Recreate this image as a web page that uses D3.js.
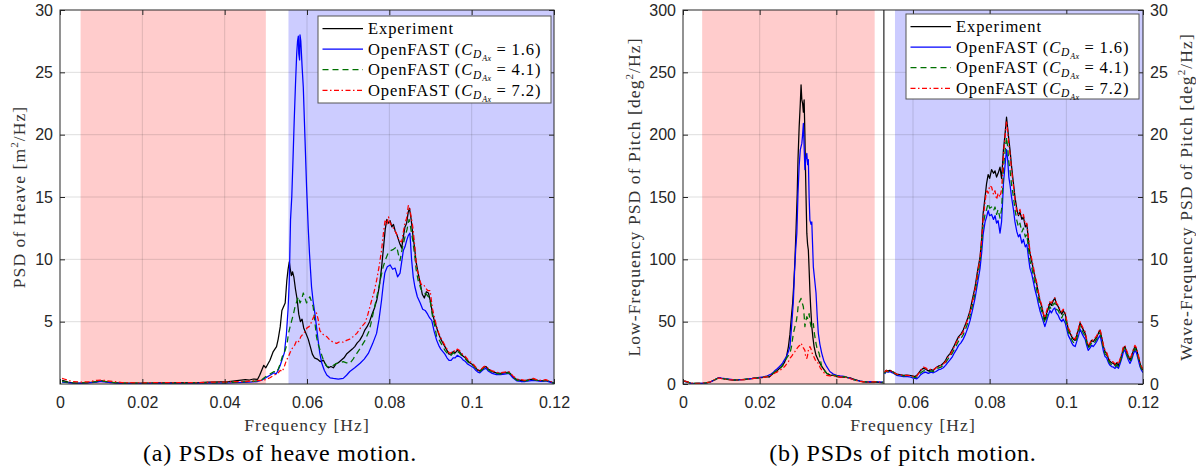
<!DOCTYPE html>
<html>
<head>
<meta charset="utf-8">
<script src="https://cdn.jsdelivr.net/npm/d3@7"></script>
<style>
  body { margin: 0; background: #fff; }
  svg { display: block; }
</style>
</head>
<body>
<svg id="fig" width="1196" height="471"></svg>
<script>
// ---- axes / ticks ----
const xTicks = [0, 0.02, 0.04, 0.06, 0.08, 0.1, 0.12];
const heaveYTicks = [5, 10, 15, 20, 25, 30];
const pitchLowTicks = [0, 50, 100, 150, 200, 250, 300];
const pitchWaveTicks = [0, 5, 10, 15, 20, 25, 30];
const cdValues = ["1.6", "4.1", "7.2"];

// shaded frequency bands [Hz] and the low/wave split of the pitch plot
const lowBand = [0.005, 0.05];
const heaveWaveBand = [0.0555, 0.12];
const pitchWaveBand = [0.0553, 0.12];
const pitchSplit = 0.0524;

// ---- heave PSD [m^2/Hz] : [frequency, value] ----
const heaveExp = [[0.0005,0.3],[0.001,0.25],[0.002,0.15],[0.003,0.1],[0.005,0.08],[0.007,0.12],[0.009,0.2],[0.01,0.25],[0.011,0.2],[0.013,0.12],[0.015,0.08],[0.018,0.07],[0.021,0.08],[0.024,0.1],[0.027,0.09],[0.03,0.12],[0.033,0.1],[0.036,0.15],[0.039,0.18],[0.041,0.2],[0.043,0.28],[0.045,0.35],[0.046,0.32],[0.047,0.4],[0.048,0.38],[0.0485,0.7],[0.049,1.1],[0.0495,1.5],[0.05,1.3],[0.0505,1.6],[0.051,1.9],[0.0518,2.6],[0.0522,2.8],[0.0526,3.0],[0.053,3.6],[0.0535,4.6],[0.0539,5.9],[0.0543,6.2],[0.0547,6.5],[0.0551,8.3],[0.0554,9.2],[0.0557,9.8],[0.0559,9.3],[0.0562,8.7],[0.0565,9.0],[0.0568,8.6],[0.0572,7.6],[0.0576,6.8],[0.058,5.6],[0.0584,5.0],[0.0588,5.2],[0.0592,4.5],[0.0597,4.1],[0.0603,3.6],[0.0608,3.0],[0.0613,2.4],[0.0618,2.1],[0.0625,2.0],[0.0632,1.8],[0.064,1.9],[0.0646,1.5],[0.0652,1.3],[0.0658,1.4],[0.0664,1.3],[0.067,1.6],[0.0676,1.7],[0.0683,1.9],[0.069,2.1],[0.0696,2.4],[0.0703,2.6],[0.071,2.8],[0.0716,3.0],[0.0722,3.3],[0.0728,3.5],[0.0735,3.9],[0.074,4.3],[0.0746,4.6],[0.0752,5.0],[0.0758,5.6],[0.0764,6.1],[0.077,6.8],[0.0776,7.9],[0.0781,9.3],[0.0786,11.0],[0.079,12.4],[0.0794,13.2],[0.0798,12.9],[0.0802,13.1],[0.0806,12.6],[0.081,12.8],[0.0814,12.3],[0.0818,12.0],[0.0822,11.6],[0.0826,11.2],[0.083,10.9],[0.0834,11.8],[0.0838,12.6],[0.0842,12.9],[0.0846,13.8],[0.0849,14.1],[0.0853,13.2],[0.0857,12.0],[0.0861,11.0],[0.0865,9.8],[0.087,8.9],[0.0875,8.1],[0.088,7.2],[0.0885,6.9],[0.089,7.4],[0.0895,7.3],[0.09,6.6],[0.0905,5.6],[0.091,5.0],[0.0915,4.5],[0.092,4.0],[0.0925,3.6],[0.093,3.3],[0.0935,3.0],[0.094,2.7],[0.0945,2.4],[0.095,2.4],[0.0955,2.6],[0.096,2.5],[0.0965,2.7],[0.097,2.6],[0.0975,2.4],[0.098,2.2],[0.0985,2.1],[0.099,1.9],[0.0995,1.7],[0.1,1.6],[0.1005,1.5],[0.101,1.3],[0.1015,1.1],[0.102,1.05],[0.1025,1.2],[0.103,1.35],[0.1035,1.4],[0.104,1.2],[0.105,1.0],[0.106,0.9],[0.107,0.85],[0.108,0.9],[0.109,0.95],[0.1095,0.8],[0.11,0.6],[0.111,0.35],[0.112,0.3],[0.113,0.28],[0.114,0.35],[0.115,0.4],[0.116,0.3],[0.117,0.25],[0.118,0.3],[0.119,0.2],[0.12,0.08]];

const heaveCd16 = [[0.0005,0.15],[0.002,0.1],[0.004,0.05],[0.007,0.1],[0.009,0.15],[0.01,0.2],[0.012,0.12],[0.015,0.05],[0.02,0.04],[0.025,0.06],[0.03,0.05],[0.035,0.08],[0.04,0.08],[0.043,0.12],[0.046,0.15],[0.048,0.2],[0.049,0.3],[0.05,0.5],[0.051,0.7],[0.052,0.9],[0.0525,0.8],[0.053,1.1],[0.0535,1.5],[0.054,2.0],[0.0545,2.5],[0.055,4.0],[0.0554,6.0],[0.0557,8.3],[0.056,13.2],[0.0563,15.0],[0.0566,18.0],[0.0569,21.2],[0.0572,24.0],[0.0575,26.5],[0.0577,27.5],[0.0579,27.9],[0.058,26.5],[0.0582,26.0],[0.0583,28.0],[0.0585,27.5],[0.0588,25.5],[0.0591,23.8],[0.0595,19.8],[0.0599,15.8],[0.0603,12.5],[0.0606,10.5],[0.0611,7.8],[0.0615,6.6],[0.0619,5.7],[0.0623,4.6],[0.0627,3.5],[0.0631,2.5],[0.0636,1.66],[0.0642,1.1],[0.0648,0.72],[0.0656,0.5],[0.0664,0.45],[0.0676,0.4],[0.0688,0.45],[0.0696,0.7],[0.0704,1.0],[0.0716,1.3],[0.0729,1.66],[0.0739,2.0],[0.0749,2.45],[0.0759,3.2],[0.0769,4.06],[0.0775,5.2],[0.0781,6.7],[0.0785,7.9],[0.0789,8.9],[0.0795,9.4],[0.0802,9.55],[0.0808,9.2],[0.0814,9.3],[0.082,8.6],[0.0826,8.9],[0.083,9.8],[0.0834,10.7],[0.0838,11.0],[0.0842,11.5],[0.0846,11.9],[0.085,12.1],[0.0854,10.0],[0.0858,8.6],[0.0862,7.8],[0.0868,7.0],[0.0875,6.5],[0.0881,6.0],[0.0887,5.9],[0.0893,5.6],[0.0898,5.3],[0.0903,5.1],[0.0909,4.2],[0.0915,3.5],[0.092,3.1],[0.0925,2.8],[0.093,2.6],[0.0935,2.4],[0.094,2.1],[0.0945,1.9],[0.095,1.9],[0.0955,2.1],[0.096,2.1],[0.0965,2.3],[0.097,2.2],[0.0975,2.1],[0.098,1.9],[0.0985,1.8],[0.099,1.6],[0.0995,1.5],[0.1,1.4],[0.1005,1.3],[0.101,1.1],[0.1015,0.95],[0.102,0.9],[0.1025,1.05],[0.103,1.2],[0.1035,1.25],[0.104,1.05],[0.105,0.85],[0.106,0.75],[0.107,0.75],[0.108,0.8],[0.109,0.85],[0.1095,0.7],[0.11,0.5],[0.111,0.25],[0.112,0.2],[0.113,0.2],[0.114,0.25],[0.115,0.3],[0.116,0.25],[0.117,0.2],[0.118,0.25],[0.119,0.15],[0.12,0.05]];

const heaveCd41 = [[0.0005,0.2],[0.002,0.12],[0.004,0.08],[0.007,0.12],[0.009,0.2],[0.01,0.25],[0.012,0.15],[0.015,0.07],[0.02,0.06],[0.025,0.08],[0.03,0.07],[0.035,0.1],[0.04,0.1],[0.043,0.15],[0.046,0.2],[0.048,0.25],[0.049,0.35],[0.05,0.6],[0.051,0.8],[0.052,1.0],[0.0525,0.9],[0.053,1.2],[0.0535,1.6],[0.054,2.2],[0.0547,2.7],[0.0552,3.3],[0.0555,4.06],[0.0559,4.6],[0.0563,5.1],[0.0567,5.6],[0.0571,6.2],[0.0575,6.6],[0.0579,7.0],[0.0583,6.5],[0.0587,6.8],[0.0591,7.3],[0.0595,6.9],[0.0599,6.5],[0.0603,6.8],[0.0607,7.0],[0.0611,6.6],[0.0615,6.2],[0.0619,5.0],[0.0623,3.8],[0.0627,3.2],[0.0632,2.7],[0.0636,2.3],[0.064,1.9],[0.0644,1.7],[0.0648,1.4],[0.0656,1.4],[0.0664,1.5],[0.0672,1.66],[0.068,1.7],[0.0688,1.8],[0.0696,1.7],[0.0704,1.66],[0.0712,2.0],[0.0721,2.45],[0.073,2.9],[0.0741,3.5],[0.075,4.2],[0.0755,4.8],[0.0761,5.7],[0.0767,6.6],[0.0773,7.54],[0.0779,8.5],[0.0785,9.4],[0.0791,10.0],[0.0797,10.5],[0.0803,10.7],[0.081,10.8],[0.0818,11.0],[0.0822,10.4],[0.0826,9.9],[0.0831,10.8],[0.0838,11.8],[0.0843,12.4],[0.0848,13.2],[0.0852,12.5],[0.0857,11.5],[0.0862,10.2],[0.0865,9.2],[0.087,8.3],[0.0877,7.6],[0.0883,7.3],[0.089,7.2],[0.0895,7.0],[0.09,6.5],[0.0905,5.4],[0.091,4.7],[0.0915,3.8],[0.092,3.6],[0.0925,3.3],[0.093,3.0],[0.0935,2.7],[0.094,2.5],[0.0945,2.3],[0.095,2.3],[0.0955,2.5],[0.096,2.4],[0.0965,2.6],[0.097,2.5],[0.0975,2.3],[0.098,2.1],[0.0985,2.0],[0.099,1.8],[0.0995,1.6],[0.1,1.55],[0.1005,1.45],[0.101,1.25],[0.1015,1.05],[0.102,1.0],[0.1025,1.15],[0.103,1.3],[0.1035,1.35],[0.104,1.15],[0.105,0.95],[0.106,0.85],[0.107,0.8],[0.108,0.85],[0.109,0.9],[0.1095,0.75],[0.11,0.55],[0.111,0.3],[0.112,0.25],[0.113,0.25],[0.114,0.3],[0.115,0.35],[0.116,0.3],[0.117,0.22],[0.118,0.28],[0.119,0.18],[0.12,0.06]];

const heaveCd72 = [[0.0005,0.45],[0.001,0.4],[0.002,0.3],[0.003,0.2],[0.005,0.15],[0.007,0.18],[0.009,0.3],[0.01,0.32],[0.011,0.28],[0.013,0.2],[0.015,0.12],[0.018,0.1],[0.021,0.1],[0.024,0.12],[0.027,0.1],[0.03,0.12],[0.033,0.1],[0.036,0.14],[0.039,0.15],[0.042,0.18],[0.045,0.2],[0.047,0.25],[0.049,0.3],[0.05,0.35],[0.051,0.5],[0.052,0.7],[0.053,0.9],[0.0535,1.1],[0.054,1.0],[0.0545,1.4],[0.055,1.9],[0.0555,2.2],[0.056,2.6],[0.0565,2.9],[0.057,3.1],[0.0575,3.5],[0.058,3.4],[0.0585,3.8],[0.059,4.0],[0.0595,4.2],[0.06,4.5],[0.0605,4.6],[0.061,4.9],[0.0615,5.3],[0.0619,5.5],[0.0623,5.7],[0.0627,5.2],[0.0631,4.3],[0.0636,4.06],[0.0642,3.9],[0.0648,3.8],[0.0656,3.5],[0.0664,3.35],[0.0672,3.26],[0.068,3.4],[0.0688,3.35],[0.0696,3.5],[0.0704,3.6],[0.0712,3.8],[0.0721,4.06],[0.073,4.5],[0.0741,4.9],[0.0748,5.6],[0.0757,6.7],[0.0763,7.4],[0.0769,8.3],[0.0775,9.4],[0.0781,10.7],[0.0786,12.2],[0.079,13.2],[0.0794,12.8],[0.0798,13.4],[0.0802,12.9],[0.0806,12.7],[0.0812,12.4],[0.0818,12.0],[0.0824,11.5],[0.083,11.4],[0.0834,12.2],[0.0838,12.9],[0.0842,13.3],[0.0846,14.3],[0.0849,14.2],[0.0853,13.4],[0.0857,12.6],[0.0862,11.0],[0.0866,9.4],[0.0872,8.6],[0.0877,8.0],[0.0883,8.0],[0.0888,7.7],[0.0893,7.5],[0.0899,7.5],[0.0905,6.0],[0.091,5.3],[0.0915,4.6],[0.092,4.1],[0.0925,3.7],[0.093,3.4],[0.0935,3.1],[0.094,2.8],[0.0945,2.5],[0.095,2.5],[0.0955,2.7],[0.096,2.6],[0.0965,2.8],[0.097,2.7],[0.0975,2.5],[0.098,2.3],[0.0985,2.2],[0.099,2.0],[0.0995,1.8],[0.1,1.7],[0.1005,1.55],[0.101,1.35],[0.1015,1.15],[0.102,1.1],[0.1025,1.25],[0.103,1.4],[0.1035,1.45],[0.104,1.25],[0.105,1.05],[0.106,0.95],[0.107,0.9],[0.108,0.95],[0.109,1.0],[0.1095,0.85],[0.11,0.65],[0.111,0.4],[0.112,0.35],[0.113,0.3],[0.114,0.38],[0.115,0.45],[0.116,0.32],[0.117,0.28],[0.118,0.35],[0.119,0.22],[0.12,0.1]];

// ---- pitch PSD, low-frequency part [deg^2/Hz], left axis ----
const pitchLowExp = [[0.0003,2.5],[0.001,2.0],[0.002,0.8],[0.003,0.5],[0.004,0.6],[0.005,0.5],[0.006,0.9],[0.007,1.5],[0.008,3.0],[0.009,4.6],[0.0095,5.0],[0.01,4.5],[0.011,4.0],[0.012,3.6],[0.013,3.2],[0.014,3.2],[0.015,3.5],[0.016,3.5],[0.017,4.0],[0.018,4.3],[0.019,4.8],[0.02,5.0],[0.021,5.3],[0.022,5.9],[0.0225,5.6],[0.023,7.0],[0.0236,8.6],[0.024,9.5],[0.0245,10.5],[0.025,12.0],[0.0255,13.5],[0.026,15.0],[0.0265,17.5],[0.027,22.0],[0.0275,30.0],[0.0279,40.0],[0.0283,55.0],[0.0286,64.7],[0.0289,80.0],[0.0292,99.0],[0.0295,125.0],[0.0298,153.0],[0.03,180.0],[0.0303,206.0],[0.0306,225.0],[0.0308,240.0],[0.031,228.0],[0.0312,225.0],[0.0314,218.0],[0.0316,228.0],[0.0318,200.0],[0.0319,180.0],[0.0321,150.0],[0.0323,121.0],[0.0325,112.0],[0.0327,107.5],[0.0329,92.0],[0.0331,75.0],[0.0333,62.0],[0.0336,46.0],[0.0339,37.0],[0.0342,30.0],[0.0347,23.0],[0.0353,19.0],[0.036,15.0],[0.0367,12.0],[0.0375,8.5],[0.0385,7.0],[0.0393,7.2],[0.0401,6.0],[0.041,5.5],[0.042,5.8],[0.0428,5.2],[0.0436,5.0],[0.0445,4.0],[0.0455,3.0],[0.0462,2.3],[0.047,1.9],[0.048,1.6],[0.049,1.5],[0.05,1.4],[0.051,1.3],[0.0522,1.0]];

const pitchLowCd16 = [[0.0003,2.0],[0.001,1.5],[0.002,0.6],[0.003,0.4],[0.004,0.5],[0.005,0.5],[0.006,0.8],[0.007,1.4],[0.008,2.8],[0.009,4.5],[0.0095,5.2],[0.01,4.8],[0.011,4.3],[0.012,3.9],[0.013,3.5],[0.014,3.4],[0.015,3.6],[0.016,3.8],[0.017,4.2],[0.018,4.5],[0.019,5.0],[0.02,5.4],[0.021,5.8],[0.022,6.5],[0.023,8.0],[0.0236,9.5],[0.024,10.8],[0.0245,12.0],[0.025,13.5],[0.0255,15.0],[0.026,17.0],[0.0265,19.5],[0.027,22.0],[0.0275,26.0],[0.0279,30.0],[0.0283,45.0],[0.0286,58.0],[0.0288,67.0],[0.0291,90.0],[0.0294,108.0],[0.0297,121.0],[0.03,153.0],[0.0303,175.0],[0.0306,188.0],[0.031,193.0],[0.0312,200.0],[0.0314,209.0],[0.0316,190.0],[0.0318,172.0],[0.032,180.0],[0.0323,185.0],[0.0325,176.0],[0.0327,180.0],[0.0329,150.0],[0.0331,131.5],[0.0334,128.0],[0.0336,130.0],[0.0338,112.0],[0.034,94.0],[0.0343,85.0],[0.0347,73.0],[0.035,55.0],[0.0353,40.7],[0.0357,32.0],[0.0362,24.6],[0.0368,18.0],[0.0375,13.9],[0.0383,10.0],[0.0392,8.0],[0.0401,7.0],[0.041,6.5],[0.042,6.2],[0.0428,5.4],[0.0436,4.5],[0.0445,3.5],[0.0455,2.8],[0.0462,2.3],[0.047,2.0],[0.048,1.8],[0.049,1.9],[0.05,2.0],[0.051,1.8],[0.0522,1.5]];

const pitchLowCd41 = [[0.0003,2.2],[0.001,1.6],[0.002,0.7],[0.003,0.5],[0.004,0.5],[0.005,0.6],[0.006,0.9],[0.007,1.5],[0.008,2.9],[0.009,4.4],[0.0095,5.0],[0.01,4.6],[0.011,4.1],[0.012,3.7],[0.013,3.4],[0.014,3.3],[0.015,3.5],[0.016,3.7],[0.017,4.1],[0.018,4.4],[0.019,4.9],[0.02,5.2],[0.021,5.6],[0.022,6.2],[0.023,7.5],[0.0236,8.8],[0.024,9.8],[0.0245,10.8],[0.025,11.8],[0.0255,13.0],[0.026,14.5],[0.0262,16.6],[0.0267,19.0],[0.0272,21.5],[0.0279,24.6],[0.0283,30.0],[0.0288,40.7],[0.0292,46.0],[0.0296,51.0],[0.0299,58.0],[0.0301,64.7],[0.0304,66.0],[0.0308,68.7],[0.0311,65.0],[0.0314,62.0],[0.0316,55.0],[0.0318,46.0],[0.032,50.0],[0.0323,54.0],[0.0326,52.0],[0.0329,56.5],[0.0331,51.0],[0.0334,46.0],[0.0337,45.0],[0.034,48.5],[0.0343,40.0],[0.0347,32.6],[0.035,28.0],[0.0355,24.6],[0.0358,20.0],[0.0362,13.9],[0.0368,11.0],[0.0375,8.5],[0.0383,7.5],[0.0392,7.0],[0.0401,6.5],[0.041,6.0],[0.042,6.0],[0.0428,5.3],[0.0436,4.7],[0.0445,3.5],[0.0455,2.7],[0.0462,2.2],[0.047,1.8],[0.048,1.7],[0.049,1.8],[0.05,1.8],[0.051,1.6],[0.0522,1.4]];

const pitchLowCd72 = [[0.0003,2.5],[0.001,1.8],[0.002,0.8],[0.003,0.5],[0.004,0.6],[0.005,0.6],[0.006,1.0],[0.007,1.6],[0.008,3.0],[0.009,4.5],[0.0095,4.8],[0.01,4.4],[0.011,3.9],[0.012,3.5],[0.013,3.3],[0.014,3.2],[0.015,3.4],[0.016,3.6],[0.017,4.0],[0.018,4.3],[0.019,4.7],[0.02,5.0],[0.021,5.4],[0.022,6.0],[0.023,7.0],[0.0236,8.0],[0.024,8.8],[0.0245,9.5],[0.025,10.5],[0.0255,11.5],[0.026,12.5],[0.0265,14.0],[0.027,16.0],[0.0275,18.0],[0.028,21.0],[0.0285,23.0],[0.0288,24.6],[0.0292,26.0],[0.0296,28.0],[0.0301,30.0],[0.0305,31.0],[0.0308,32.6],[0.0311,31.0],[0.0314,29.0],[0.0318,27.0],[0.032,22.0],[0.0323,20.6],[0.0325,23.0],[0.0327,27.0],[0.0331,30.0],[0.0334,28.0],[0.0337,24.6],[0.0341,22.0],[0.0347,18.0],[0.0353,16.6],[0.0358,13.0],[0.0362,11.3],[0.0368,9.0],[0.0375,7.0],[0.0383,6.5],[0.0392,6.5],[0.0401,6.2],[0.041,5.6],[0.042,5.6],[0.0428,5.0],[0.0436,4.4],[0.0445,3.4],[0.0455,2.6],[0.0462,2.1],[0.047,1.8],[0.048,1.6],[0.049,1.6],[0.05,1.7],[0.051,1.5],[0.0522,1.3]];

// ---- pitch PSD, wave-frequency part [deg^2/Hz], right axis ----
const pitchWaveExp = [[0.0526,0.9],[0.053,1.1],[0.0535,1.05],[0.054,1.1],[0.0545,1.0],[0.055,0.95],[0.0557,0.8],[0.0565,0.75],[0.0575,0.7],[0.0584,0.72],[0.059,0.7],[0.0598,0.65],[0.0605,0.6],[0.061,0.7],[0.0615,0.9],[0.062,1.1],[0.0627,1.26],[0.0633,1.2],[0.064,1.05],[0.0647,1.15],[0.0653,1.1],[0.066,1.3],[0.0667,1.45],[0.0673,1.5],[0.0679,1.66],[0.0685,1.9],[0.069,2.2],[0.0697,2.46],[0.0703,2.8],[0.0708,3.1],[0.0714,3.5],[0.0719,3.8],[0.0725,4.0],[0.0731,4.33],[0.0737,4.8],[0.0743,5.3],[0.0749,5.9],[0.0755,6.8],[0.0762,7.8],[0.0768,9.0],[0.0775,10.2],[0.0779,11.6],[0.0783,13.7],[0.0788,15.0],[0.0792,16.1],[0.0796,16.8],[0.08,16.5],[0.0805,17.2],[0.081,16.9],[0.0814,17.1],[0.0818,16.6],[0.0822,16.9],[0.0827,17.4],[0.0831,16.5],[0.0834,17.8],[0.0836,18.8],[0.084,20.0],[0.0844,21.4],[0.0847,20.5],[0.085,19.6],[0.0853,18.8],[0.0857,17.5],[0.0862,16.1],[0.0866,15.0],[0.0871,14.0],[0.0875,13.5],[0.0879,13.8],[0.0884,13.2],[0.0888,13.4],[0.0893,12.6],[0.0897,12.8],[0.0901,11.6],[0.0905,10.5],[0.091,9.8],[0.0914,9.2],[0.0918,8.6],[0.0923,8.0],[0.0927,7.3],[0.0931,6.7],[0.0936,6.2],[0.094,5.6],[0.0944,5.1],[0.0948,5.6],[0.0953,6.1],[0.0957,6.5],[0.0961,6.3],[0.0966,6.7],[0.097,6.9],[0.0974,6.4],[0.0979,6.2],[0.0983,5.9],[0.0988,5.6],[0.0992,5.9],[0.0997,5.6],[0.1001,5.0],[0.1005,4.4],[0.101,4.06],[0.1014,3.8],[0.1018,3.6],[0.1023,3.5],[0.1027,3.9],[0.1032,4.4],[0.1036,4.9],[0.104,4.6],[0.1045,4.3],[0.1049,4.06],[0.1053,3.5],[0.1057,3.0],[0.1062,3.26],[0.1066,3.5],[0.107,3.4],[0.1075,3.6],[0.1079,3.75],[0.1084,4.1],[0.1088,4.33],[0.1093,3.6],[0.1097,3.0],[0.1101,2.6],[0.1105,2.46],[0.111,2.0],[0.1114,1.8],[0.1118,1.7],[0.1123,1.66],[0.1127,1.5],[0.1131,1.7],[0.1136,1.5],[0.114,1.9],[0.1145,2.4],[0.1149,2.9],[0.1153,3.0],[0.1157,2.6],[0.1162,2.2],[0.1166,1.93],[0.117,2.2],[0.1175,2.7],[0.1179,3.0],[0.1183,2.8],[0.1188,2.2],[0.1192,1.66],[0.1196,1.3],[0.12,1.1]];

const pitchWaveCd16 = [[0.0526,0.8],[0.053,1.0],[0.0535,0.95],[0.054,1.0],[0.0545,0.9],[0.055,0.85],[0.0557,0.7],[0.0565,0.65],[0.0575,0.6],[0.0584,0.62],[0.059,0.58],[0.0598,0.5],[0.0605,0.45],[0.061,0.42],[0.0615,0.55],[0.062,0.75],[0.0627,0.9],[0.0633,0.95],[0.064,0.85],[0.0647,0.95],[0.0653,0.9],[0.066,1.0],[0.0667,1.15],[0.0673,1.2],[0.0679,1.3],[0.0685,1.5],[0.069,1.7],[0.0697,1.95],[0.0703,2.2],[0.0708,2.5],[0.0714,2.8],[0.0719,3.1],[0.0725,3.3],[0.0731,3.6],[0.0737,4.0],[0.0743,4.5],[0.0749,5.1],[0.0755,5.9],[0.0762,6.9],[0.0768,8.0],[0.0775,9.3],[0.0779,10.5],[0.0783,12.0],[0.0788,13.0],[0.0792,13.4],[0.0796,13.9],[0.08,13.5],[0.0805,13.6],[0.081,13.2],[0.0814,13.5],[0.0818,12.9],[0.0822,13.1],[0.0827,12.1],[0.0831,13.0],[0.0834,14.8],[0.0836,16.1],[0.084,17.5],[0.0844,18.8],[0.0847,18.0],[0.085,16.6],[0.0853,16.0],[0.0857,15.0],[0.0862,14.0],[0.0866,13.0],[0.0871,12.2],[0.0875,11.8],[0.0879,12.0],[0.0884,11.3],[0.0888,11.6],[0.0893,11.0],[0.0897,11.2],[0.0901,10.2],[0.0905,9.3],[0.091,8.8],[0.0914,8.2],[0.0918,7.6],[0.0923,7.0],[0.0927,6.4],[0.0931,5.9],[0.0936,5.4],[0.094,5.0],[0.0944,4.6],[0.0948,5.0],[0.0953,5.5],[0.0957,5.9],[0.0961,5.7],[0.0966,6.0],[0.097,6.1],[0.0974,5.7],[0.0979,5.5],[0.0983,5.2],[0.0988,5.0],[0.0992,5.2],[0.0997,4.9],[0.1001,4.4],[0.1005,3.9],[0.101,3.6],[0.1014,3.3],[0.1018,3.1],[0.1023,3.0],[0.1027,3.4],[0.1032,3.9],[0.1036,4.4],[0.104,4.1],[0.1045,3.8],[0.1049,3.6],[0.1053,3.1],[0.1057,2.7],[0.1062,2.9],[0.1066,3.1],[0.107,3.0],[0.1075,3.2],[0.1079,3.4],[0.1084,3.7],[0.1088,3.9],[0.1093,3.2],[0.1097,2.6],[0.1101,2.2],[0.1105,2.1],[0.111,1.7],[0.1114,1.5],[0.1118,1.4],[0.1123,1.35],[0.1127,1.25],[0.1131,1.4],[0.1136,1.25],[0.114,1.6],[0.1145,2.1],[0.1149,2.6],[0.1153,2.7],[0.1157,2.3],[0.1162,1.9],[0.1166,1.65],[0.117,1.9],[0.1175,2.4],[0.1179,2.7],[0.1183,2.5],[0.1188,1.9],[0.1192,1.4],[0.1196,1.1],[0.12,0.9]];

const pitchWaveCd41 = [[0.0526,0.85],[0.053,1.05],[0.0535,1.0],[0.054,1.05],[0.0545,0.95],[0.055,0.9],[0.0557,0.75],[0.0565,0.7],[0.0575,0.65],[0.0584,0.68],[0.059,0.64],[0.0598,0.58],[0.0605,0.52],[0.061,0.55],[0.0615,0.7],[0.062,0.9],[0.0627,1.05],[0.0633,1.05],[0.064,0.95],[0.0647,1.05],[0.0653,1.0],[0.066,1.15],[0.0667,1.3],[0.0673,1.35],[0.0679,1.5],[0.0685,1.7],[0.069,1.95],[0.0697,2.2],[0.0703,2.5],[0.0708,2.8],[0.0714,3.15],[0.0719,3.45],[0.0725,3.65],[0.0731,3.95],[0.0737,4.4],[0.0743,4.9],[0.0749,5.5],[0.0755,6.3],[0.0762,7.3],[0.0768,8.5],[0.0775,9.8],[0.0779,11.1],[0.0783,12.8],[0.0788,13.6],[0.0792,14.0],[0.0796,14.5],[0.08,14.1],[0.0805,14.2],[0.081,13.9],[0.0814,14.2],[0.0818,13.6],[0.0822,14.0],[0.0827,13.3],[0.0831,14.0],[0.0834,15.8],[0.0836,17.4],[0.084,18.6],[0.0844,19.8],[0.0847,19.0],[0.085,17.8],[0.0853,17.2],[0.0857,16.0],[0.0862,15.0],[0.0866,14.0],[0.0871,13.1],[0.0875,12.6],[0.0879,12.9],[0.0884,12.2],[0.0888,12.5],[0.0893,11.8],[0.0897,12.0],[0.0901,10.9],[0.0905,9.9],[0.091,9.3],[0.0914,8.7],[0.0918,8.1],[0.0923,7.5],[0.0927,6.9],[0.0931,6.3],[0.0936,5.8],[0.094,5.3],[0.0944,4.9],[0.0948,5.3],[0.0953,5.8],[0.0957,6.2],[0.0961,6.0],[0.0966,6.4],[0.097,6.5],[0.0974,6.0],[0.0979,5.9],[0.0983,5.6],[0.0988,5.3],[0.0992,5.6],[0.0997,5.3],[0.1001,4.7],[0.1005,4.2],[0.101,3.85],[0.1014,3.55],[0.1018,3.35],[0.1023,3.25],[0.1027,3.65],[0.1032,4.15],[0.1036,4.65],[0.104,4.35],[0.1045,4.05],[0.1049,3.85],[0.1053,3.3],[0.1057,2.85],[0.1062,3.1],[0.1066,3.3],[0.107,3.2],[0.1075,3.4],[0.1079,3.6],[0.1084,3.9],[0.1088,4.1],[0.1093,3.4],[0.1097,2.8],[0.1101,2.4],[0.1105,2.3],[0.111,1.85],[0.1114,1.65],[0.1118,1.55],[0.1123,1.5],[0.1127,1.38],[0.1131,1.55],[0.1136,1.38],[0.114,1.75],[0.1145,2.25],[0.1149,2.75],[0.1153,2.85],[0.1157,2.45],[0.1162,2.05],[0.1166,1.8],[0.117,2.05],[0.1175,2.55],[0.1179,2.85],[0.1183,2.65],[0.1188,2.05],[0.1192,1.55],[0.1196,1.2],[0.12,1.0]];

const pitchWaveCd72 = [[0.0526,0.95],[0.053,1.1],[0.0535,1.0],[0.054,1.1],[0.0545,1.0],[0.055,0.9],[0.0557,0.8],[0.0565,0.72],[0.0575,0.7],[0.0584,0.7],[0.059,0.68],[0.0598,0.62],[0.0605,0.6],[0.061,0.65],[0.0615,0.85],[0.062,1.1],[0.0627,1.35],[0.0633,1.3],[0.064,1.1],[0.0647,1.2],[0.0653,1.15],[0.066,1.3],[0.0667,1.45],[0.0673,1.5],[0.0679,1.6],[0.0685,1.8],[0.069,2.1],[0.0697,2.35],[0.0703,2.7],[0.0708,3.0],[0.0714,3.4],[0.0719,3.7],[0.0725,3.9],[0.0731,4.2],[0.0737,4.7],[0.0743,5.2],[0.0749,5.8],[0.0755,6.6],[0.0762,7.6],[0.0768,8.8],[0.0775,10.1],[0.0779,11.5],[0.0783,13.3],[0.0788,14.6],[0.0792,15.6],[0.0796,15.3],[0.08,15.9],[0.0805,15.8],[0.081,15.2],[0.0814,15.5],[0.0818,14.8],[0.0822,15.3],[0.0827,15.0],[0.0831,15.6],[0.0834,17.0],[0.0836,18.4],[0.084,19.8],[0.0844,21.1],[0.0847,20.3],[0.085,19.2],[0.0853,18.5],[0.0857,17.2],[0.0862,15.9],[0.0866,14.8],[0.0871,13.8],[0.0875,13.6],[0.0879,14.0],[0.0884,13.4],[0.0888,13.6],[0.0893,12.8],[0.0897,12.9],[0.0901,11.8],[0.0905,10.7],[0.091,10.0],[0.0914,9.4],[0.0918,8.7],[0.0923,8.1],[0.0927,7.4],[0.0931,6.8],[0.0936,6.3],[0.094,5.7],[0.0944,5.3],[0.0948,5.8],[0.0953,6.3],[0.0957,6.6],[0.0961,6.5],[0.0966,6.8],[0.097,6.9],[0.0974,6.5],[0.0979,6.3],[0.0983,6.0],[0.0988,5.8],[0.0992,6.0],[0.0997,5.7],[0.1001,5.1],[0.1005,4.5],[0.101,4.2],[0.1014,3.9],[0.1018,3.7],[0.1023,3.6],[0.1027,4.0],[0.1032,4.5],[0.1036,5.0],[0.104,4.7],[0.1045,4.4],[0.1049,4.2],[0.1053,3.6],[0.1057,3.1],[0.1062,3.3],[0.1066,3.6],[0.107,3.5],[0.1075,3.7],[0.1079,3.85],[0.1084,4.2],[0.1088,4.4],[0.1093,3.7],[0.1097,3.1],[0.1101,2.7],[0.1105,2.55],[0.111,2.1],[0.1114,1.9],[0.1118,1.8],[0.1123,1.75],[0.1127,1.6],[0.1131,1.8],[0.1136,1.6],[0.114,2.0],[0.1145,2.5],[0.1149,3.0],[0.1153,3.1],[0.1157,2.7],[0.1162,2.3],[0.1166,2.0],[0.117,2.3],[0.1175,2.8],[0.1179,3.1],[0.1183,2.9],[0.1188,2.3],[0.1192,1.75],[0.1196,1.4],[0.12,1.2]];

// ---- styles ----
const serif = "'Liberation Serif', 'Times New Roman', serif";
const sans = "'Liberation Sans', Arial, sans-serif";
const styles = [
  { color: "#000000", dash: null },
  { color: "#0000ff", dash: null },
  { color: "#007000", dash: "6,4" },
  { color: "#ff0000", dash: "5,2.5,1.5,2.5" }
];

const svg = d3.select("#fig");

function addSup(text, before, sup, after) {
  text.append("tspan").text(before);
  text.append("tspan").attr("font-size", "11px").attr("dy", -7).text(sup);
  text.append("tspan").attr("dy", 7).text(after);
}

function yLabel(x, yc, before, sup, after) {
  const t = svg.append("text")
    .attr("transform", `translate(${x},${yc}) rotate(-90)`)
    .attr("text-anchor", "middle")
    .attr("font-family", serif).attr("font-size", "17.5px")
    .style("letter-spacing", "1.1px").attr("fill", "#333");
  addSup(t, before, sup, after);
}

// d3.axis puts its own font on the group; override it afterwards
function styleAxis(sel) {
  sel.attr("font-family", sans).attr("font-size", 16);
  sel.select(".domain").remove();
  sel.selectAll(".tick line").attr("stroke", "#262626");
  sel.selectAll(".tick text").attr("fill", "#262626");
}

function drawPanel(o) {
  const g = svg.append("g");
  const x = d3.scaleLinear([0, 0.12], [o.x0, o.x1]);
  const yL = d3.scaleLinear(o.yDomain, [o.y1, o.y0]);
  const yR = o.yDomainR ? d3.scaleLinear(o.yDomainR, [o.y1, o.y0]) : null;

  // frequency bands
  g.append("rect").attr("x", x(lowBand[0])).attr("y", o.y0)
    .attr("width", x(lowBand[1]) - x(lowBand[0])).attr("height", o.y1 - o.y0)
    .attr("fill", "#ffcccc");
  g.append("rect").attr("x", x(o.waveBand[0])).attr("y", o.y0)
    .attr("width", x(o.waveBand[1]) - x(o.waveBand[0])).attr("height", o.y1 - o.y0)
    .attr("fill", "#ccccff");

  // grid
  const grid = g.append("g").attr("stroke", "#262626").attr("stroke-opacity", 0.15).attr("stroke-width", 1);
  xTicks.slice(1, -1).forEach(t => grid.append("line")
    .attr("x1", x(t)).attr("x2", x(t)).attr("y1", o.y0).attr("y2", o.y1));
  o.yTicks.filter(t => t > o.yDomain[0] && t < o.yDomain[1]).forEach(t => grid.append("line")
    .attr("x1", o.x0).attr("x2", o.x1).attr("y1", yL(t)).attr("y2", yL(t)));

  // clip
  const clipId = "clip" + o.id;
  svg.append("clipPath").attr("id", clipId).append("rect")
    .attr("x", o.x0).attr("y", o.y0).attr("width", o.x1 - o.x0).attr("height", o.y1 - o.y0);

  if (o.split) {
    g.append("line").attr("x1", x(o.split)).attr("x2", x(o.split))
      .attr("y1", o.y0).attr("y2", o.y1).attr("stroke", "#262626").attr("stroke-width", 1.2);
  }

  const lines = g.append("g").attr("clip-path", `url(#${clipId})`);
  const lineL = d3.line().x(d => x(d[0])).y(d => yL(d[1]));
  const lineR = yR ? d3.line().x(d => x(d[0])).y(d => yR(d[1])) : null;
  o.series.forEach((s, i) => {
    const st = styles[i];
    const add = (data, gen) => lines.append("path").datum(data).attr("d", gen)
      .attr("fill", "none").attr("stroke", st.color).attr("stroke-width", 1.25)
      .attr("stroke-linejoin", "round").attr("stroke-dasharray", st.dash);
    add(s.left, lineL);
    if (s.right) add(s.right, lineR);
  });

  // axes
  g.append("g").attr("transform", `translate(0,${o.y1})`)
    .call(d3.axisBottom(x).tickValues(xTicks).tickSizeInner(-5).tickSizeOuter(0)
      .tickPadding(12.5).tickFormat(d3.format("~g")))
    .call(styleAxis);
  g.append("g").attr("transform", `translate(0,${o.y0})`)
    .call(d3.axisTop(x).tickValues(xTicks).tickSizeInner(-5).tickSizeOuter(0).tickFormat(""))
    .call(styleAxis);
  g.append("g").attr("transform", `translate(${o.x0},0)`)
    .call(d3.axisLeft(yL).tickValues(o.yTicks).tickSizeInner(-5).tickSizeOuter(0).tickPadding(7))
    .call(styleAxis);
  if (yR) {
    g.append("g").attr("transform", `translate(${o.x1},0)`)
      .call(d3.axisRight(yR).tickValues(o.yTicksR).tickSizeInner(-5).tickSizeOuter(0).tickPadding(7))
      .call(styleAxis);
  } else {
    g.append("g").attr("transform", `translate(${o.x1},0)`)
      .call(d3.axisRight(yL).tickValues(o.yTicks).tickSizeInner(-5).tickSizeOuter(0).tickFormat(""))
      .call(styleAxis);
  }

  g.append("rect").attr("x", o.x0).attr("y", o.y0)
    .attr("width", o.x1 - o.x0).attr("height", o.y1 - o.y0)
    .attr("fill", "none").attr("stroke", "#262626").attr("stroke-width", 1);

  // x label
  g.append("text").attr("x", (o.x0 + o.x1) / 2).attr("y", 431)
    .attr("text-anchor", "middle").attr("font-family", serif).attr("font-size", "17.5px")
    .style("letter-spacing", "1.1px").attr("fill", "#333").text("Frequency [Hz]");

  // legend
  const lg = g.append("g").attr("font-family", serif).attr("font-size", "16.5px")
    .style("letter-spacing", "0.9px");
  lg.append("rect").attr("x", o.legend[0]).attr("y", o.legend[1])
    .attr("width", o.legend[2]).attr("height", o.legend[3])
    .attr("fill", "#fff").attr("stroke", "#555").attr("stroke-width", 1);
  styles.forEach((st, i) => {
    const ly = o.legend[1] + 12.5 + i * 20.6;
    lg.append("line").attr("x1", o.legend[0] + 4.5).attr("x2", o.legend[0] + 45)
      .attr("y1", ly).attr("y2", ly).attr("stroke", st.color).attr("stroke-width", 1.25)
      .attr("stroke-dasharray", st.dash);
    const t = lg.append("text").attr("x", o.legend[0] + 50).attr("y", ly + 5.5).attr("fill", "#000");
    if (i === 0) { t.text("Experiment"); return; }
    t.append("tspan").text("OpenFAST (");
    t.append("tspan").attr("font-style", "italic").text("C");
    t.append("tspan").attr("font-style", "italic").attr("font-size", "11.5px").attr("dy", 3.5).text("D");
    t.append("tspan").attr("font-style", "italic").attr("font-size", "8px").attr("dy", 2.5)
      .style("letter-spacing", "0.3px").text("Ax");
    t.append("tspan").attr("dy", -6).text(" = " + cdValues[i - 1] + ")");
  });

  // caption
  svg.append("text").attr("x", o.caption[0]).attr("y", 461).attr("text-anchor", "middle")
    .attr("font-family", serif).attr("font-size", "24px").style("letter-spacing", "0.8px")
    .attr("fill", "#000").text(o.caption[1]);
}

drawPanel({
  id: "a", x0: 60, x1: 554, y0: 10, y1: 384,
  yDomain: [0, 30], yTicks: heaveYTicks, waveBand: heaveWaveBand,
  series: [{ left: heaveExp }, { left: heaveCd16 }, { left: heaveCd41 }, { left: heaveCd72 }],
  legend: [318, 16, 233, 87],
  caption: [280, "(a) PSDs of heave motion."]
});

drawPanel({
  id: "b", x0: 683, x1: 1143, y0: 10, y1: 384,
  yDomain: [0, 300], yTicks: pitchLowTicks, yDomainR: [0, 30], yTicksR: pitchWaveTicks,
  waveBand: pitchWaveBand, split: pitchSplit,
  series: [
    { left: pitchLowExp, right: pitchWaveExp },
    { left: pitchLowCd16, right: pitchWaveCd16 },
    { left: pitchLowCd41, right: pitchWaveCd41 },
    { left: pitchLowCd72, right: pitchWaveCd72 }
  ],
  legend: [906, 14, 233, 85],
  caption: [903, "(b) PSDs of pitch motion."]
});

yLabel(25, 197, "PSD of Heave [m", "2", "/Hz]");
yLabel(640, 197, "Low-Frequency PSD of Pitch [deg", "2", "/Hz]");
yLabel(1192, 197, "Wave-Frequency PSD of Pitch [deg", "2", "/Hz]");
</script>
</body>
</html>
